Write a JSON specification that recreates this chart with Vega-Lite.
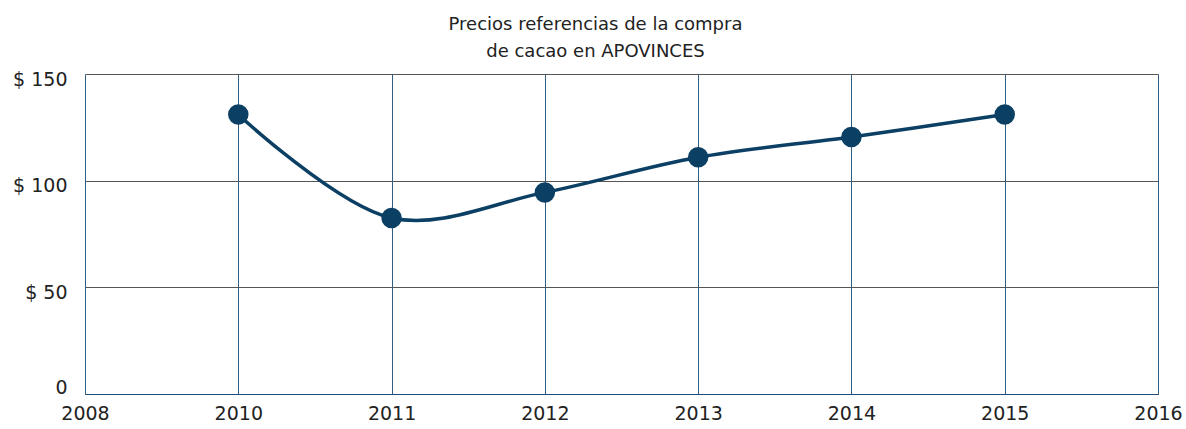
{
  "$schema": "https://vega.github.io/schema/vega-lite/v6.json",
  "autosize": "none",
  "width": 1073,
  "height": 320,
  "padding": {"left": 85, "top": 74, "right": 28, "bottom": 35},
  "background": "white",
  "title": {
    "text": ["Precios referencias de la compra", "de cacao en APOVINCES"],
    "font": "DejaVu Sans",
    "fontSize": 18,
    "fontWeight": "normal",
    "color": "#222222",
    "lineHeight": 27,
    "offset": 9,
    "dx": -26
  },
  "config": {
    "view": {"stroke": null},
    "axis": {"labelFont": "DejaVu Sans", "labelFontSize": 19, "labelColor": "#222222"}
  },
  "data": {
    "values": [
      {"year": "2010", "price": 131},
      {"year": "2011", "price": 82.5},
      {"year": "2012", "price": 94.5},
      {"year": "2013", "price": 111},
      {"year": "2014", "price": 120.5},
      {"year": "2015", "price": 131}
    ]
  },
  "encoding": {
    "x": {
      "field": "year",
      "type": "ordinal",
      "scale": {"type": "point", "padding": 0, "domain": ["2008", "2010", "2011", "2012", "2013", "2014", "2015", "2016"]},
      "axis": {
        "title": null,
        "labelAngle": 0,
        "ticks": false,
        "domain": true,
        "domainColor": "#1f4e79",
        "domainWidth": 1,
        "grid": true,
        "gridColor": "#2f5f86",
        "gridWidth": 1,
        "gridOpacity": 1,
        "labelPadding": 10
      }
    },
    "y": {
      "field": "price",
      "type": "quantitative",
      "scale": {"domain": [0, 150], "nice": false},
      "axis": {
        "title": null,
        "values": [0, 50, 100, 150],
        "labelExpr": "datum.value == 0 ? '0' : '$ ' + datum.value",
        "ticks": false,
        "domain": false,
        "grid": true,
        "gridColor": "#555555",
        "gridWidth": 1,
        "labelPadding": 18,
        "labelOffset": {"condition": {"test": "datum.value == 0", "value": -7}, "value": 5}
      }
    }
  },
  "layer": [
    {
      "mark": {"type": "line", "interpolate": "catmull-rom", "color": "#0b3f63", "strokeWidth": 3.5}
    },
    {
      "mark": {"type": "point", "filled": true, "opacity": 1, "color": "#0b3f63", "size": 420, "shape": "circle"}
    }
  ]
}
